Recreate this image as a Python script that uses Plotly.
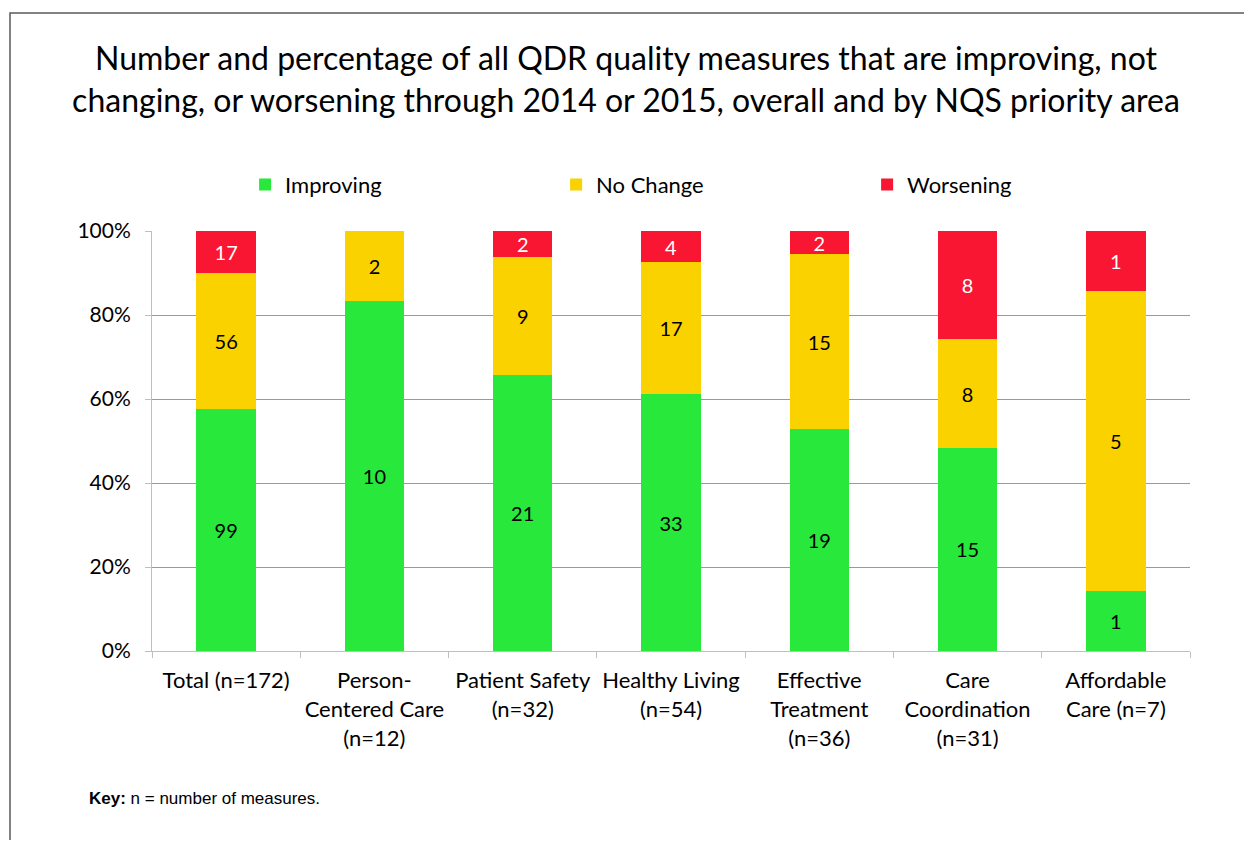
import plotly.graph_objects as go

categories = ["Total (n=172)", "Person-<br>Centered Care<br>(n=12)", "Patient Safety<br>(n=32)",
              "Healthy Living<br>(n=54)", "Effective<br>Treatment<br>(n=36)",
              "Care<br>Coordination<br>(n=31)", "Affordable<br>Care (n=7)"]
improving = [99, 10, 21, 33, 19, 15, 1]
no_change = [56, 2, 9, 17, 15, 8, 5]
worsening = [17, None, 2, 4, 2, 8, 1]
y_ticks = [0, 20, 40, 60, 80, 100]

font_main = "Lato, 'Open Sans', sans-serif"

fig = go.Figure()

# stacked series, normalised to percent by plotly
series = [
    ("Improving", improving, "#27E83B", "black"),
    ("No Change", no_change, "#F9D200", "black"),
    ("Worsening", worsening, "#F91633", "white"),
]
for name, vals, col, txt_col in series:
    fig.add_trace(go.Bar(
        x=categories, y=vals, name=name,
        marker=dict(color=col, line=dict(width=0)),
        text=[("" if v is None else str(v)) for v in vals],
        textposition="inside", insidetextanchor="middle",
        textangle=0, constraintext="none",
        textfont=dict(family=font_main, size=20, color=txt_col),
        hoverinfo="skip",
    ))

# page body has an 8px margin, so the figure is a bit smaller than the window
fig.update_layout(
    width=1236, height=832,
    barmode="stack", barnorm="percent", bargap=0.6,
    uniformtext=dict(mode=False),
    margin=dict(l=144, r=54, t=223, b=189),
    paper_bgcolor="white", plot_bgcolor="white",
    font=dict(family=font_main, size=20, color="black"),
    title=dict(
        text="Number and percentage of all QDR quality measures that are improving, not<br>"
             "changing, or worsening through 2014 or 2015, overall and by NQS priority area",
        x=0.5, xanchor="center", y=0.925, yanchor="top",
        font=dict(family=font_main, size=32, color="black"),
    ),
    legend=dict(
        orientation="h", x=0.0897, xanchor="left", y=1.11, yanchor="middle",
        entrywidth=266, entrywidthmode="pixels",
        font=dict(family=font_main, size=22), itemsizing="constant",
        traceorder="normal",
    ),
    showlegend=True,
)

fig.update_yaxes(
    range=[0, 100], tickvals=y_ticks, ticktext=[f"{t}%" for t in y_ticks],
    showgrid=True, gridcolor="#9A9A9A", gridwidth=1,
    showline=True, linecolor="#BFBFBF", linewidth=1,
    ticks="outside", ticklen=6, tickcolor="#BFBFBF",
    ticklabelstandoff=10,
    zeroline=False, tickfont=dict(size=21),
)
fig.update_xaxes(
    showline=True, linecolor="#BFBFBF", linewidth=1,
    ticks="outside", ticklen=6, tickcolor="#BFBFBF",
    tickson="boundaries", tickfont=dict(size=22), tickangle=0,
    ticklabelstandoff=10,
    showgrid=False,
)

# note at the bottom
fig.add_annotation(
    text="<b>Key:</b> n = number of measures.",
    xref="paper", yref="paper", x=-0.0626, y=-0.35,
    xanchor="left", yanchor="middle", showarrow=False,
    font=dict(family="Arial, 'Liberation Sans', sans-serif", size=17, color="black"),
)

# outer frame of the chart area
fig.add_shape(
    type="rect", xref="paper", yref="paper",
    x0=-0.1368, y0=-0.6, x1=1.08, y1=1.519,
    line=dict(color="#595959", width=1.5), layer="above",
)

fig.write_html("out.html")
